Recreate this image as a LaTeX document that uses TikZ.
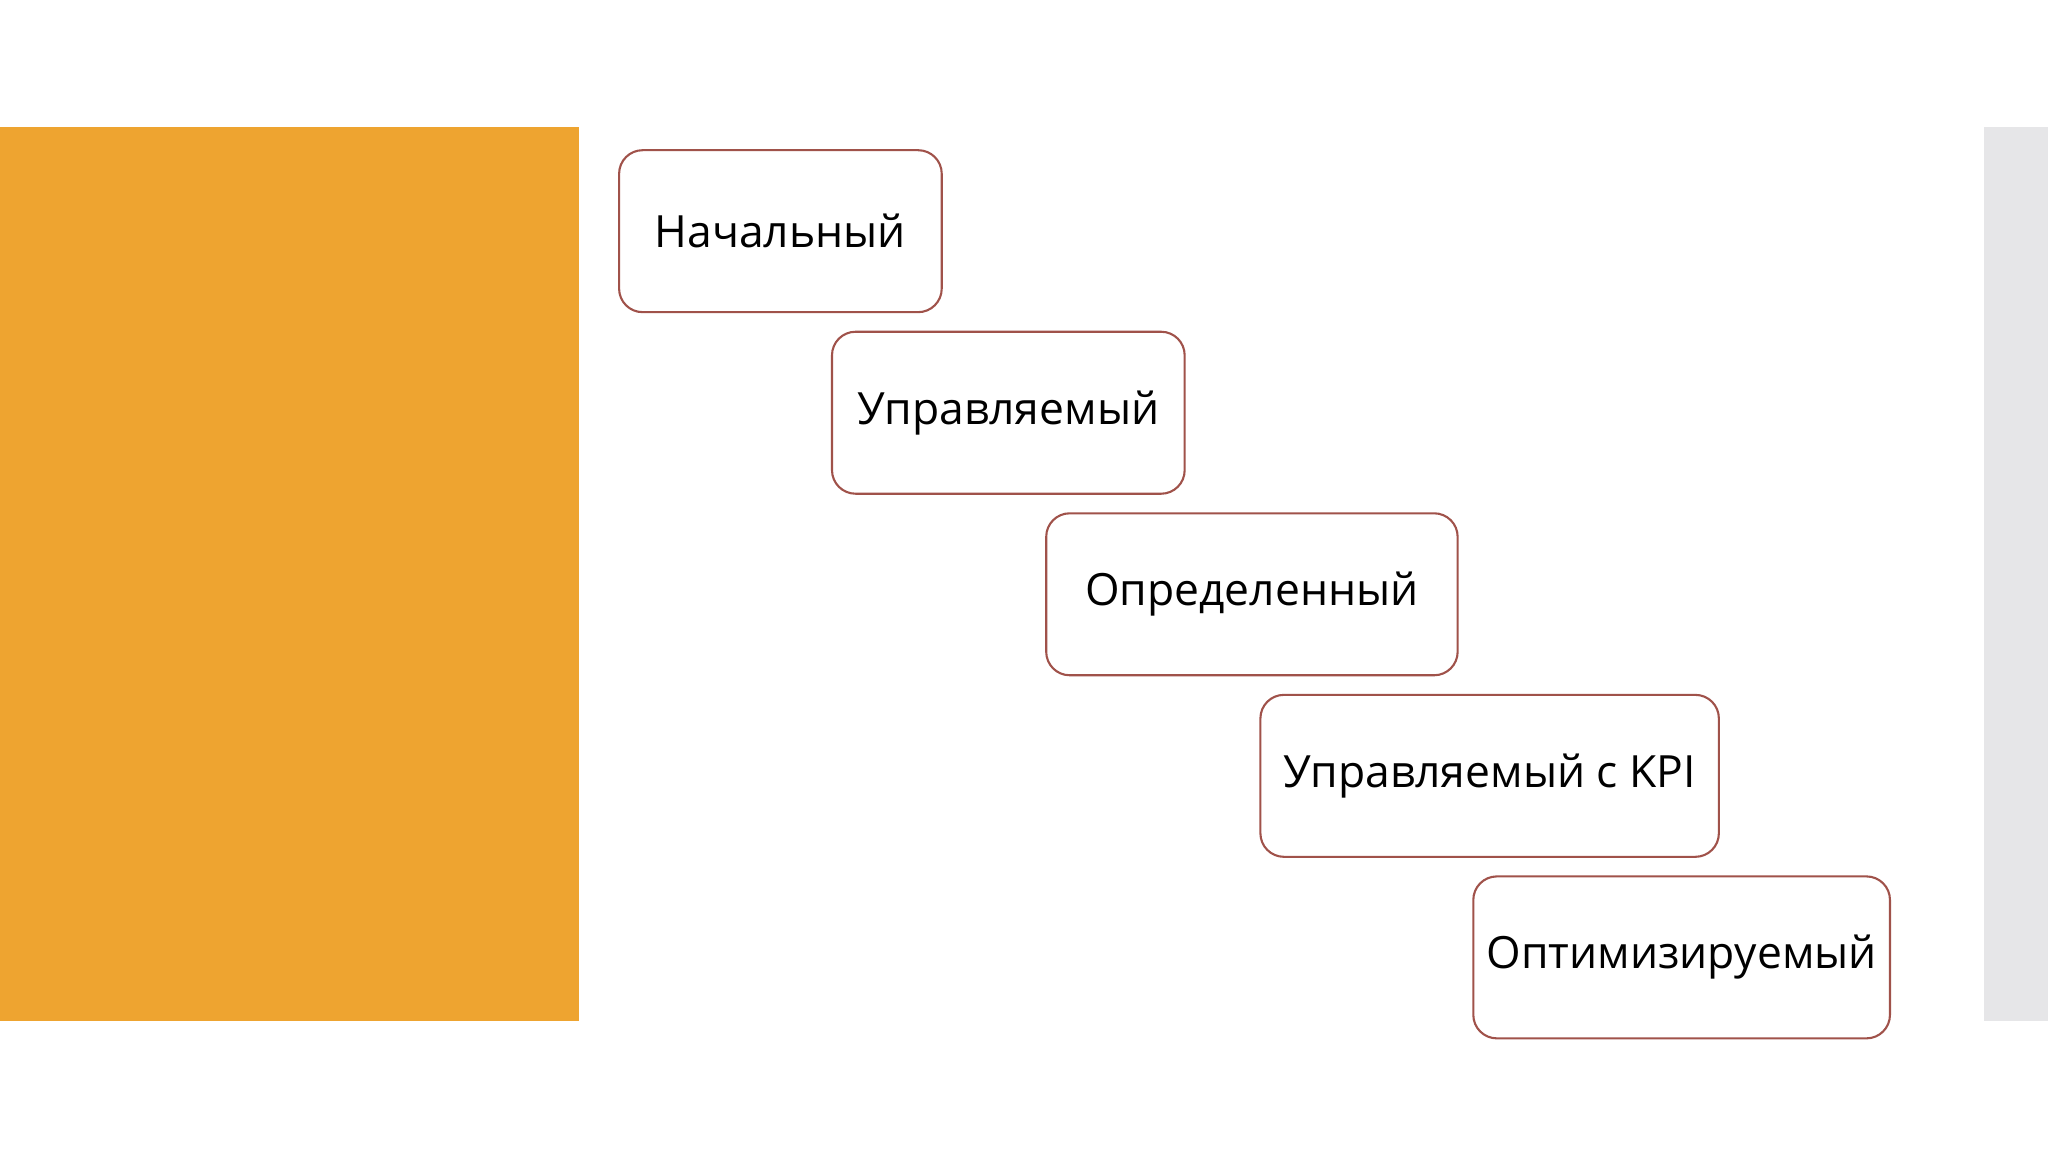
\documentclass[tikz,border=0pt]{standalone}
\usepackage{fontspec}
\setmainfont{Open Sans}
\usetikzlibrary{calc,backgrounds}
\definecolor{orangeA}{HTML}{EEA430}
\definecolor{grayA}{HTML}{E6E6E8}
\definecolor{edgeA}{HTML}{A0524A}
\definecolor{fillA}{HTML}{E3D1CF}
\tikzset{
 boxA/.style={draw=edgeA,line width=0.8pt,fill=white,rounded corners=9pt,minimum height=62pt,inner sep=0pt,font=\fontsize{17}{20}\selectfont},
 stairA/.style={draw=edgeA!85!black,line width=0.6pt,fill=fillA}
}
\newcommand{\stairarrow}[4]{%
 \coordinate (s#1) at ($(#1.south west)+(#3,0)$);
 \coordinate (bb#1) at ($(#2.north west)+(-#4,80)$);
 \coordinate (bt#1) at ($(#2.north west)+(-#4,46)$);
 \draw[stairA] (s#1) -- (s#1 |- bb#1) -- (bb#1) -- ++(0,10) -- ($(bb#1)+(26,-17)$) -- ($(bt#1)+(0,-8)$) -- (bt#1) -- ($(s#1 |- bt#1)+(34,0)$) -- ($(s#1)+(34,0)$) -- cycle;}
\begin{document}
\begin{tikzpicture}[x=0.5pt,y=-0.5pt]
\useasboundingbox (0,0) rectangle (1568,882);
\fill[white] (0,0) rectangle (1568,882);
\fill[orangeA] (0,97) rectangle (443,782);
\fill[grayA] (1519,97) rectangle (1568,782);
\node[boxA,minimum width=123.5pt] (b1) at (597.5,177) {Начальный};
\node[boxA,minimum width=135pt] (b2) at (772,316) {Управляемый};
\node[boxA,minimum width=157.5pt] (b3) at (958.5,455) {Определенный};
\node[boxA,minimum width=175.5pt] (b4) at (1140.5,594) {Управляемый с KPI};
\node[boxA,minimum width=159.5pt] (b5) at (1287.5,733) {Оптимизируемый};
\begin{scope}[on background layer]
\stairarrow{b1}{b2}{56}{26}
\stairarrow{b2}{b3}{68}{14}
\stairarrow{b3}{b4}{90}{10}
\stairarrow{b4}{b5}{108}{10}
\end{scope}
\end{tikzpicture}
\end{document}
